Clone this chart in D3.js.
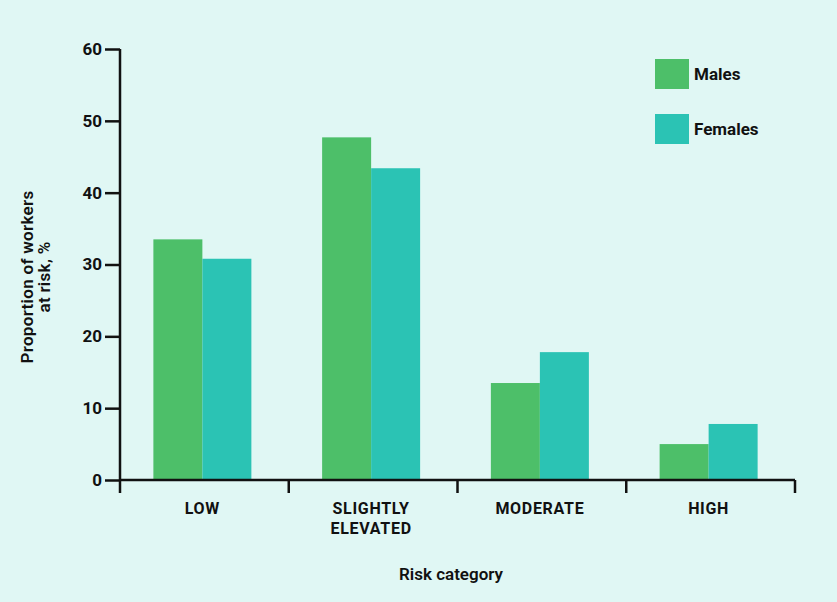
<!DOCTYPE html>
<html><head><meta charset="utf-8">
<script src="https://cdn.jsdelivr.net/npm/d3@7"></script>
<style>
html,body{margin:0;padding:0;background:#e0f7f4;}
text{font-family:Roboto,"Noto Sans",sans-serif;font-weight:700;fill:#111;}
</style></head>
<body>
<svg id="chart" width="837" height="602"></svg>
<script>
const categories = ["LOW", "SLIGHTLY ELEVATED", "MODERATE", "HIGH"];
const categoryLines = [["LOW"], ["SLIGHTLY", "ELEVATED"], ["MODERATE"], ["HIGH"]];
const seriesNames = ["Males", "Females"];
const males = [33.5, 47.7, 13.5, 5.0];
const females = [30.8, 43.4, 17.8, 7.8];
const yTicks = [0, 10, 20, 30, 40, 50, 60];
const colors = ["#4dbf69", "#2bc3b4"];

const svg = d3.select("#chart");
svg.append("rect").attr("width", 837).attr("height", 602).attr("fill", "#e0f7f4");

const x0 = d3.scaleBand().domain(categories).range([120, 795]).padding(0);
const groupShift = -2;
const groupW = 98;
const x1 = d3.scaleBand().domain(seriesNames).range([0, groupW]).padding(0);
const y = d3.scaleLinear().domain([0, 60]).range([480, 49]);

const data = categories.map((c, i) => ({cat: c, vals: [males[i], females[i]]}));

// bars
const g = svg.append("g");
data.forEach(d => {
  const gx = x0(d.cat) + x0.bandwidth() / 2 - groupW / 2 + groupShift;
  d.vals.forEach((v, j) => {
    g.append("rect")
      .attr("x", gx + x1(seriesNames[j]))
      .attr("y", y(v))
      .attr("width", x1.bandwidth())
      .attr("height", y(0) - y(v))
      .attr("fill", colors[j]);
  });
});

// y axis
const yAxis = svg.append("g").attr("transform", "translate(120,0)")
  .call(d3.axisLeft(y).tickValues(yTicks).tickSize(15).tickPadding(3));
yAxis.select(".domain").attr("stroke", "#111").attr("stroke-width", 2.5).attr("d", `M0,${y(60)}V${y(0)}`);
yAxis.selectAll(".tick line").attr("stroke", "#111").attr("stroke-width", 2.5);
yAxis.selectAll(".tick text").style("font-size", "17px").style("font-family", "Roboto,sans-serif").style("font-weight", 700).attr("fill", "#111");

// x axis line + ticks at band boundaries
const boundaries = categories.map(c => x0(c)).concat([x0.range()[1]]);
svg.append("line").attr("x1", 120).attr("x2", 795).attr("y1", y(0)).attr("y2", y(0))
  .attr("stroke", "#111").attr("stroke-width", 2.5);
svg.selectAll(".xtick").data(boundaries).enter().append("line")
  .attr("x1", d => d).attr("x2", d => d).attr("y1", y(0)).attr("y2", y(0) + 13)
  .attr("stroke", "#111").attr("stroke-width", 2.5);

// x labels
categories.forEach((c, i) => {
  const cx = x0(c) + x0.bandwidth() / 2 + groupShift;
  const t = svg.append("text").attr("text-anchor", "middle")
    .attr("x", cx).attr("y", 514).style("font-size", "16px").style("letter-spacing", "0.7px");
  categoryLines[i].forEach((ln, k) => {
    t.append("tspan").attr("x", cx).attr("dy", k === 0 ? 0 : 20).text(ln);
  });
});

// axis titles
svg.append("text").attr("x", 451).attr("y", 580).attr("text-anchor", "middle")
  .style("font-size", "17px").style("font-weight", 600).text("Risk category");
const yt = svg.append("text").attr("text-anchor", "middle")
  .attr("transform", "translate(33,277) rotate(-90)").style("font-size", "17px").style("font-weight", 600)
  .style("letter-spacing", "0.3px");
yt.append("tspan").attr("x", 0).attr("dy", 0).text("Proportion of workers");
yt.append("tspan").attr("x", 0).attr("dy", 17).text("at risk, %");

// legend
const leg = svg.append("g");
seriesNames.forEach((s, i) => {
  const ly = 59 + i * 55;
  leg.append("rect").attr("x", 655).attr("y", ly).attr("width", 34).attr("height", 30).attr("fill", colors[i]);
  leg.append("text").attr("x", 694).attr("y", ly + 21).style("font-size", "17px").text(s);
});
</script>
</body></html>
